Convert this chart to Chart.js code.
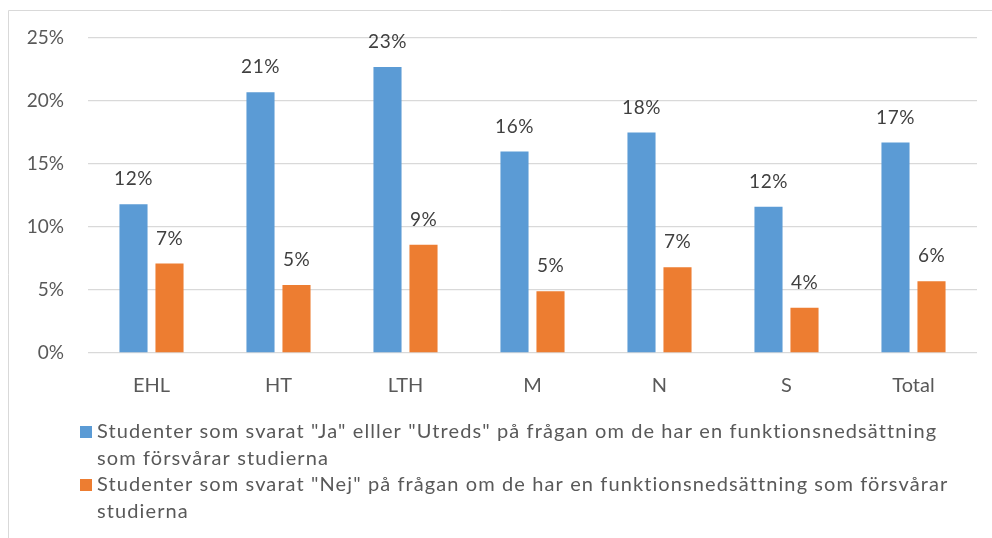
<!DOCTYPE html>
<html>
<head>
<meta charset="utf-8">
<script src="https://cdn.jsdelivr.net/npm/chart.js@4.4.0/dist/chart.umd.min.js"></script>
<style>
    html, body { margin: 0; padding: 0; background: #fff; }
    #wrap { width: 992px; height: 538px; }
</style>
</head>
<body>
<div id="wrap"><canvas id="funk_chart" width="992" height="538"></canvas></div>
<script>
// FUNKTIONSNEDSÄTTNING PER FAKULTET
const faculties = ['EHL', 'HT', 'LTH', 'M', 'N', 'S', 'Total'];

const jaUtreds = [0.118, 0.207, 0.227, 0.160, 0.175, 0.116, 0.167];
const nej = [0.071, 0.054, 0.086, 0.049, 0.068, 0.036, 0.057];

const yTicks = [0, 0.05, 0.10, 0.15, 0.20, 0.25];

// legend text, split where it wraps
const jaUtredsLabel = [
    'Studenter som svarat "Ja" elller "Utreds" på frågan om de har en funktionsnedsättning',
    'som försvårar studierna'
];
const nejLabel = [
    'Studenter som svarat "Nej" på frågan om de har en funktionsnedsättning som försvårar',
    'studierna'
];

const FONT = 'Lato';
const TEXT_GREY = '#595959';
const GRID_GREY = '#d9d9d9';

const pct = v => Math.round(v * 100) + '%';

// frame line along the top and left edge
const frame = {
    id: 'frame',
    beforeDraw(chart) {
        const c = chart.ctx;
        c.save();
        c.strokeStyle = GRID_GREY;
        c.lineWidth = 1;
        c.beginPath();
        c.moveTo(8.5, chart.height);
        c.lineTo(8.5, 10.5);
        c.lineTo(chart.width, 10.5);
        c.stroke();
        c.restore();
    }
};

// percentage above each bar
const barLabels = {
    id: 'barLabels',
    afterDatasetsDraw(chart) {
        const c = chart.ctx;
        c.save();
        c.font = '19px ' + FONT;
        c.letterSpacing = '0.5px';
        c.fillStyle = '#404040';
        c.textAlign = 'center';
        c.textBaseline = 'middle';
        chart.data.datasets.forEach((ds, i) => {
            chart.getDatasetMeta(i).data.forEach((bar, j) => {
                c.fillText(pct(ds.data[j]), bar.x, bar.y - 25);
            });
        });
        c.restore();
    }
};

// legend under the axis, two wrapped entries
const wrappedLegend = {
    id: 'wrappedLegend',
    afterDraw(chart) {
        const c = chart.ctx;
        const lineH = 26.5;
        let y = chart.chartArea.bottom + 79;
        c.save();
        c.font = '20px ' + FONT;
        c.letterSpacing = '1.1px';
        c.textBaseline = 'middle';
        chart.data.datasets.forEach(ds => {
            c.fillStyle = ds.backgroundColor;
            c.fillRect(80, y - 6, 12, 12);
            c.fillStyle = TEXT_GREY;
            ds.legendLines.forEach((line, k) => {
                c.fillText(line, 97, y + k * lineH);
            });
            y += ds.legendLines.length * lineH;
        });
        c.restore();
    }
};

const chart_data = {
    labels: faculties,
    datasets: [{
        label: jaUtredsLabel.join(' '),
        legendLines: jaUtredsLabel,
        data: jaUtreds,
        backgroundColor: '#5b9bd5'
    }, {
        label: nejLabel.join(' '),
        legendLines: nejLabel,
        data: nej,
        backgroundColor: '#ed7d31'
    }]
};

const config = {
    type: 'bar',
    data: chart_data,
    options: {
        responsive: false,
        animation: false,
        layout: {
            padding: { top: 38, right: 15, bottom: 135, left: 0 }
        },
        categoryPercentage: 0.567,
        barPercentage: 0.78,
        plugins: {
            legend: { display: false },
            tooltip: { enabled: false }
        },
        scales: {
            x: {
                grid: { display: false },
                border: { display: false },
                ticks: {
                    color: TEXT_GREY,
                    font: { family: FONT, size: 20 },
                    padding: 13
                },
                afterFit: scale => { scale.height = 50; }
            },
            y: {
                min: 0,
                max: 0.25,
                afterBuildTicks: scale => {
                    scale.ticks = yTicks.map(v => ({ value: v }));
                },
                grid: {
                    color: GRID_GREY,
                    lineWidth: 1.3,
                    drawTicks: false
                },
                border: { display: false },
                ticks: {
                    color: TEXT_GREY,
                    font: { family: FONT, size: 19 },
                    padding: 24,
                    callback: v => pct(v)
                },
                afterFit: scale => { scale.width = 88; }
            }
        }
    },
    plugins: [frame, barLabels, wrappedLegend]
};

const chart = new Chart(document.getElementById('funk_chart'), config);
</script>
</body>
</html>
